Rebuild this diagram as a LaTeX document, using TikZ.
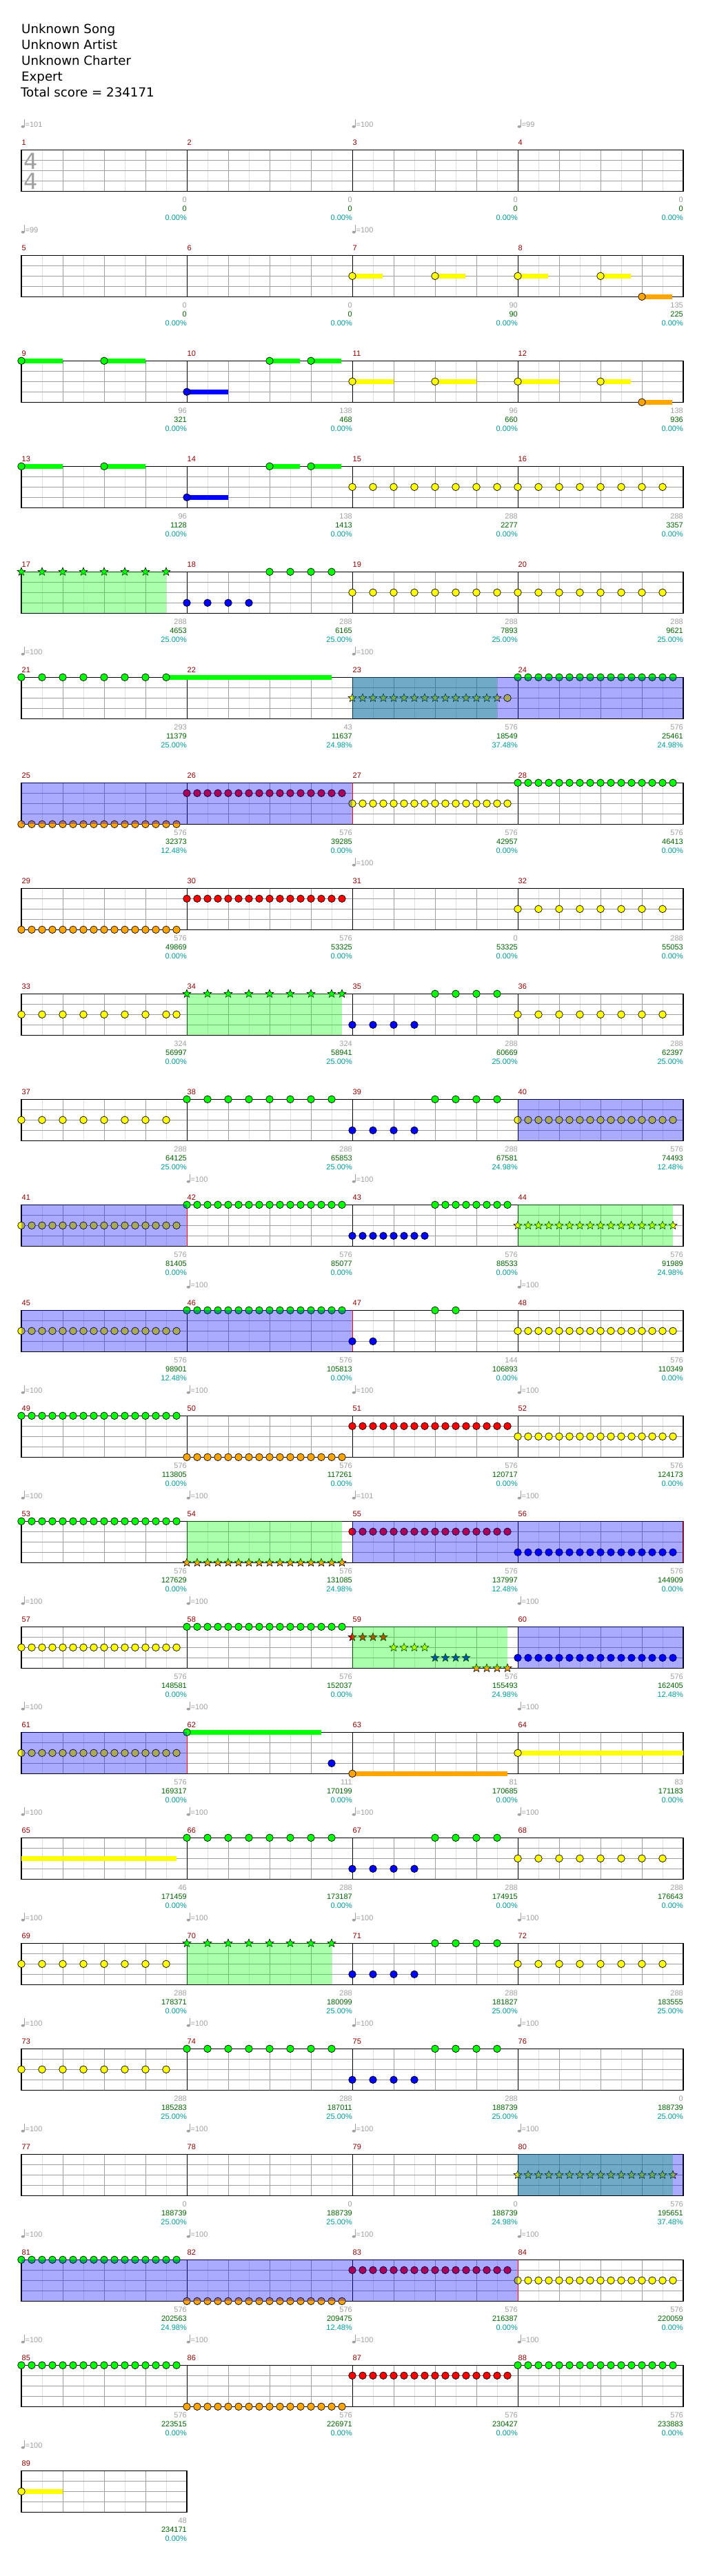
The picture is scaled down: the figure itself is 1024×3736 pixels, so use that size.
\documentclass[tikz,border=0pt]{standalone}
\usepackage{fontspec}
\newfontfamily\DJFONT{DejaVu Sans}
\newfontfamily\LABFONT{Liberation Sans}
\usetikzlibrary{shapes.geometric}
\definecolor{cG}{RGB}{0,255,0}
\definecolor{cR}{RGB}{255,0,0}
\definecolor{cY}{RGB}{255,255,0}
\definecolor{cB}{RGB}{0,0,255}
\definecolor{cO}{RGB}{255,165,0}
\definecolor{gridgray}{RGB}{160,160,160}
\definecolor{gridlight}{RGB}{222,222,222}
\definecolor{lblgray}{RGB}{160,160,160}
\definecolor{lblgreen}{RGB}{0,100,0}
\definecolor{lblcyan}{RGB}{0,153,153}
\definecolor{mnum}{RGB}{140,0,0}
\tikzset{
 lbase/.style={anchor=base east,inner sep=0pt,font=\LABFONT\fontsize{11}{13}\selectfont},
 lblg/.style={lbase,text=lblgray},
 lblgr/.style={lbase,text=lblgreen},
 lblc/.style={lbase,text=lblcyan},
 mnumst/.style={anchor=base west,inner sep=0pt,text=mnum,font=\LABFONT\fontsize{11}{13}\selectfont},
 titlest/.style={anchor=base west,inner sep=0pt,font=\DJFONT\fontsize{18.2}{20}\selectfont},
 tsig/.style={anchor=base,inner sep=0pt,text=lblgray,font=\DJFONT\fontsize{32}{32}\selectfont},
 starnote/.style={star,star points=5,star point ratio=2.3,minimum size=12.5pt,inner sep=0pt,draw=black,line width=0.6pt},
}
\newcommand\SETM[1]{%
 \pgfmathtruncatemacro\mrow{(#1-1)/4}%
 \pgfmathtruncatemacro\mcol{#1-1-4*\mrow}%
 \pgfmathsetmacro\mx{31+240*\mcol}%
 \pgfmathsetmacro\my{217.3+153*\mrow}}
\newcommand\STAFF[2]{%
 \pgfmathsetmacro\sy{217.3+153*#1}%
 \pgfmathtruncatemacro\nq{4*#2}%
 \pgfmathtruncatemacro\nqm{4*#2-1}%
 \pgfmathsetmacro\sx{31+240*#2}%
 \foreach \i in {1,...,\nq}{\draw[gridlight,line width=1pt] ({31+60*\i-30},\sy) -- ++(0,60);}%
 \foreach \i in {1,...,\nqm}{\draw[gridgray,line width=1pt] ({31+60*\i},\sy) -- ++(0,60);}%
 \foreach \j in {1,2,3}{\draw[gridgray,line width=1pt] (31,{\sy+15*\j}) -- (\sx,{\sy+15*\j});}%
 \ifnum#2>1 \pgfmathtruncatemacro\nb{#2-1}\foreach \j in {1,...,\nb}{\draw[black,line width=1pt] ({31+240*\j},\sy) -- ++(0,60);}\fi
 \draw[black,line width=1.1pt] (31,\sy) rectangle (\sx,{\sy+60});}
\newcommand\NH[3]{\pgfmathsetmacro\px{\mx+15*(#3)}\pgfmathsetmacro\py{\my+15*(#2)}%
 \filldraw[fill=#1,draw=black,line width=0.7pt] (\px,\py) circle[radius=5.3pt];}
\newcommand\SH[3]{\pgfmathsetmacro\px{\mx+15*(#3)}\pgfmathsetmacro\py{\my+15*(#2)}%
 \node[starnote,fill=#1] at (\px,\py) {};}
\newcommand\NSUS[4]{\pgfmathsetmacro\px{\mx+15*(#3)}\pgfmathsetmacro\py{\my+15*(#2)-3.4}%
 \fill[#1] (\px,\py) rectangle ++(#4,6.8);}
\newcommand\NS[4]{\NSUS{#1}{#2}{#3}{#4}\NH{#1}{#2}{#3}}
\newcommand\NRUN[5]{\foreach \k in {1,...,#5}{\NH{#1}{#2}{#3+#4*(\k-1)}}}
\newcommand\SRUN[5]{\foreach \k in {1,...,#5}{\SH{#1}{#2}{#3+#4*(\k-1)}}}
\newcommand\REGG[3]{\SETM{#1}\fill[cG,fill opacity=0.3333] (#2,\my) rectangle (#3,{\my+60});}
\newcommand\REGB[3]{\SETM{#1}\fill[cB,fill opacity=0.3333] (#2,\my) rectangle (#3,{\my+60});}
\newcommand\ENDL[2]{\SETM{#1}\draw[cR,line width=0.8pt] (#2,\my) -- (#2,{\my+60});}
\newcommand\LBL[4]{\SETM{#1}\pgfmathsetmacro\ex{\mx+240}%
 \node[lblg] at (\ex,{\my+76}) {#2};%
 \node[lblgr] at (\ex,{\my+89}) {#3};%
 \node[lblc] at (\ex,{\my+102}) {#4};}
\newcommand\TEMPO[2]{\SETM{#1}%
 \fill[lblgray] ({\mx+2.3},{\my-33.6}) ellipse[x radius=2.6pt,y radius=1.9pt];%
 \draw[lblgray,line width=0.9pt] ({\mx+4.6},{\my-34}) -- ({\mx+4.6},{\my-44.5});%
 \node[anchor=base west,inner sep=0pt,text=lblgray,font=\LABFONT\fontsize{11}{13}\selectfont] at ({\mx+5.5},{\my-33}) {=#2};}
\begin{document}
\begin{tikzpicture}[x=1pt,y=-1pt]
\useasboundingbox (0,0) rectangle (1024,3736);
\fill[white] (0,0) rectangle (1024,3736);
% title
\node[titlest] (t1) at (31,49) {Unknown Song};
\node[titlest] (t2) at (31,72) {Unknown Artist};
\node[titlest] (t3) at (31,95) {Unknown Charter};
\node[titlest] (t4) at (31,118) {Expert};
\node[titlest] (t5) at (30,141) {Total score = 234171};
% staves
\foreach \r in {0,...,21}{\STAFF{\r}{4}}
\STAFF{22}{1}
\node[tsig] (ts1) at (44.7,245.3) {4};
\node[tsig] (ts2) at (44.7,274.3) {4};
% end-of-activation markers
\ENDL{26}{511}\ENDL{41}{271}\ENDL{46}{511}\ENDL{61}{271}\ENDL{81}{751}\ENDL{55}{991}
% notes
\SETM{7}\NS{cY}{2}{0}{44}\NS{cY}{2}{8}{44}
\SETM{8}\NS{cY}{2}{0}{44}\NS{cY}{2}{8}{44}\NS{cO}{4}{12}{44}
\SETM{9}\NS{cG}{0}{0}{60}\NS{cG}{0}{8}{60}
\SETM{10}\NS{cB}{3}{0}{60}\NS{cG}{0}{8}{44}\NS{cG}{0}{12}{44}
\SETM{11}\NS{cY}{2}{0}{60}\NS{cY}{2}{8}{60}
\SETM{12}\NS{cY}{2}{0}{60}\NS{cY}{2}{8}{44}\NS{cO}{4}{12}{44}
\SETM{13}\NS{cG}{0}{0}{60}\NS{cG}{0}{8}{60}
\SETM{14}\NS{cB}{3}{0}{60}\NS{cG}{0}{8}{44}\NS{cG}{0}{12}{44}
\SETM{15}\NRUN{cY}{2}{0}{2}{8}
\SETM{16}\NRUN{cY}{2}{0}{2}{8}
\SETM{17}\SRUN{cG}{0}{0}{2}{8}
\SETM{18}\NRUN{cB}{3}{0}{2}{4}\NRUN{cG}{0}{8}{2}{4}
\SETM{19}\NRUN{cY}{2}{0}{2}{8}
\SETM{20}\NRUN{cY}{2}{0}{2}{8}
\SETM{21}\NRUN{cG}{0}{0}{2}{7}\NS{cG}{0}{14}{240}
\SETM{23}\SRUN{cY}{2}{0}{1}{15}\NH{cY}{2}{15}
\SETM{24}\NRUN{cG}{0}{0}{1}{16}
\SETM{25}\NRUN{cO}{4}{0}{1}{16}
\SETM{26}\NRUN{cR}{1}{0}{1}{16}
\SETM{27}\NRUN{cY}{2}{0}{1}{16}
\SETM{28}\NRUN{cG}{0}{0}{1}{16}
\SETM{29}\NRUN{cO}{4}{0}{1}{16}
\SETM{30}\NRUN{cR}{1}{0}{1}{16}
\SETM{32}\NRUN{cY}{2}{0}{2}{8}
\SETM{33}\NRUN{cY}{2}{0}{2}{8}\NH{cY}{2}{15}
\SETM{34}\SRUN{cG}{0}{0}{2}{8}\SH{cG}{0}{15}
\SETM{35}\NRUN{cB}{3}{0}{2}{4}\NRUN{cG}{0}{8}{2}{4}
\SETM{36}\NRUN{cY}{2}{0}{2}{8}
\SETM{37}\NRUN{cY}{2}{0}{2}{8}
\SETM{38}\NRUN{cG}{0}{0}{2}{8}
\SETM{39}\NRUN{cB}{3}{0}{2}{4}\NRUN{cG}{0}{8}{2}{4}
\SETM{40}\NRUN{cY}{2}{0}{1}{16}
\SETM{41}\NRUN{cY}{2}{0}{1}{16}
\SETM{42}\NRUN{cG}{0}{0}{1}{16}
\SETM{43}\NRUN{cB}{3}{0}{1}{8}\NRUN{cG}{0}{8}{1}{8}
\SETM{44}\SRUN{cY}{2}{0}{1}{16}
\SETM{45}\NRUN{cY}{2}{0}{1}{16}
\SETM{46}\NRUN{cG}{0}{0}{1}{16}
\SETM{47}\NRUN{cB}{3}{0}{2}{2}\NRUN{cG}{0}{8}{2}{2}
\SETM{48}\NRUN{cY}{2}{0}{1}{16}
\SETM{49}\NRUN{cG}{0}{0}{1}{16}
\SETM{50}\NRUN{cO}{4}{0}{1}{16}
\SETM{51}\NRUN{cR}{1}{0}{1}{16}
\SETM{52}\NRUN{cY}{2}{0}{1}{16}
\SETM{53}\NRUN{cG}{0}{0}{1}{16}
\SETM{54}\SRUN{cO}{4}{0}{1}{16}
\SETM{55}\NRUN{cR}{1}{0}{1}{16}
\SETM{56}\NRUN{cB}{3}{0}{1}{16}
\SETM{57}\NRUN{cY}{2}{0}{1}{16}
\SETM{58}\NRUN{cG}{0}{0}{1}{16}
\SETM{59}\SRUN{cR}{1}{0}{1}{4}\SRUN{cY}{2}{4}{1}{4}\SRUN{cB}{3}{8}{1}{4}\SRUN{cO}{4}{12}{1}{4}
\SETM{60}\NRUN{cB}{3}{0}{1}{16}
\SETM{61}\NRUN{cY}{2}{0}{1}{16}
\SETM{62}\NS{cG}{0}{0}{195}\NH{cB}{3}{14}
\SETM{63}\NS{cO}{4}{0}{225}
\SETM{64}\NS{cY}{2}{0}{240}
\SETM{65}\NSUS{cY}{2}{0}{225}
\SETM{66}\NRUN{cG}{0}{0}{2}{8}
\SETM{67}\NRUN{cB}{3}{0}{2}{4}\NRUN{cG}{0}{8}{2}{4}
\SETM{68}\NRUN{cY}{2}{0}{2}{8}
\SETM{69}\NRUN{cY}{2}{0}{2}{8}
\SETM{70}\SRUN{cG}{0}{0}{2}{8}
\SETM{71}\NRUN{cB}{3}{0}{2}{4}\NRUN{cG}{0}{8}{2}{4}
\SETM{72}\NRUN{cY}{2}{0}{2}{8}
\SETM{73}\NRUN{cY}{2}{0}{2}{8}
\SETM{74}\NRUN{cG}{0}{0}{2}{8}
\SETM{75}\NRUN{cB}{3}{0}{2}{4}\NRUN{cG}{0}{8}{2}{4}
\SETM{80}\SRUN{cY}{2}{0}{1}{16}
\SETM{81}\NRUN{cG}{0}{0}{1}{16}
\SETM{82}\NRUN{cO}{4}{0}{1}{16}
\SETM{83}\NRUN{cR}{1}{0}{1}{16}
\SETM{84}\NRUN{cY}{2}{0}{1}{16}
\SETM{85}\NRUN{cG}{0}{0}{1}{16}
\SETM{86}\NRUN{cO}{4}{0}{1}{16}
\SETM{87}\NRUN{cR}{1}{0}{1}{16}
\SETM{88}\NRUN{cG}{0}{0}{1}{16}
\SETM{89}\NS{cY}{2}{0}{60}
% star power regions
\REGG{17}{31}{241}\REGG{23}{511}{721}\REGG{34}{271}{496}\REGG{44}{751}{976}
\REGG{54}{271}{496}\REGG{59}{511}{736}\REGG{70}{271}{481}\REGG{80}{751}{976}
% activation regions
\REGB{23}{511}{991}\REGB{25}{31}{511}\REGB{40}{751}{991}\REGB{41}{31}{271}
\REGB{45}{31}{511}\REGB{55}{511}{991}\REGB{60}{751}{991}\REGB{61}{31}{271}
\REGB{80}{751}{991}\REGB{81}{31}{751}
% measure numbers
\foreach \m in {1,...,89}{\SETM{\m}\node[mnumst] at ({\mx+0.5},{\my-7}) {\m};}
% tempos
\TEMPO{1}{101}\TEMPO{3}{100}\TEMPO{4}{99}\TEMPO{5}{99}\TEMPO{7}{100}
\TEMPO{21}{100}\TEMPO{23}{100}\TEMPO{31}{100}\TEMPO{42}{100}\TEMPO{43}{100}
\TEMPO{46}{100}\TEMPO{48}{100}
\foreach \m in {49,50,51,52,53,54,56,57,58,60,61,62,64}{\TEMPO{\m}{100}}
\TEMPO{55}{101}
\foreach \m in {65,...,89}{\TEMPO{\m}{100}}
% labels
\LBL{1}{0}{0}{0.00\%}\LBL{2}{0}{0}{0.00\%}\LBL{3}{0}{0}{0.00\%}\LBL{4}{0}{0}{0.00\%}
\LBL{5}{0}{0}{0.00\%}\LBL{6}{0}{0}{0.00\%}\LBL{7}{90}{90}{0.00\%}\LBL{8}{135}{225}{0.00\%}
\LBL{9}{96}{321}{0.00\%}\LBL{10}{138}{468}{0.00\%}\LBL{11}{96}{660}{0.00\%}\LBL{12}{138}{936}{0.00\%}
\LBL{13}{96}{1128}{0.00\%}\LBL{14}{138}{1413}{0.00\%}\LBL{15}{288}{2277}{0.00\%}\LBL{16}{288}{3357}{0.00\%}
\LBL{17}{288}{4653}{25.00\%}\LBL{18}{288}{6165}{25.00\%}\LBL{19}{288}{7893}{25.00\%}\LBL{20}{288}{9621}{25.00\%}
\LBL{21}{293}{11379}{25.00\%}\LBL{22}{43}{11637}{24.98\%}\LBL{23}{576}{18549}{37.48\%}\LBL{24}{576}{25461}{24.98\%}
\LBL{25}{576}{32373}{12.48\%}\LBL{26}{576}{39285}{0.00\%}\LBL{27}{576}{42957}{0.00\%}\LBL{28}{576}{46413}{0.00\%}
\LBL{29}{576}{49869}{0.00\%}\LBL{30}{576}{53325}{0.00\%}\LBL{31}{0}{53325}{0.00\%}\LBL{32}{288}{55053}{0.00\%}
\LBL{33}{324}{56997}{0.00\%}\LBL{34}{324}{58941}{25.00\%}\LBL{35}{288}{60669}{25.00\%}\LBL{36}{288}{62397}{25.00\%}
\LBL{37}{288}{64125}{25.00\%}\LBL{38}{288}{65853}{25.00\%}\LBL{39}{288}{67581}{24.98\%}\LBL{40}{576}{74493}{12.48\%}
\LBL{41}{576}{81405}{0.00\%}\LBL{42}{576}{85077}{0.00\%}\LBL{43}{576}{88533}{0.00\%}\LBL{44}{576}{91989}{24.98\%}
\LBL{45}{576}{98901}{12.48\%}\LBL{46}{576}{105813}{0.00\%}\LBL{47}{144}{106893}{0.00\%}\LBL{48}{576}{110349}{0.00\%}
\LBL{49}{576}{113805}{0.00\%}\LBL{50}{576}{117261}{0.00\%}\LBL{51}{576}{120717}{0.00\%}\LBL{52}{576}{124173}{0.00\%}
\LBL{53}{576}{127629}{0.00\%}\LBL{54}{576}{131085}{24.98\%}\LBL{55}{576}{137997}{12.48\%}\LBL{56}{576}{144909}{0.00\%}
\LBL{57}{576}{148581}{0.00\%}\LBL{58}{576}{152037}{0.00\%}\LBL{59}{576}{155493}{24.98\%}\LBL{60}{576}{162405}{12.48\%}
\LBL{61}{576}{169317}{0.00\%}\LBL{62}{111}{170199}{0.00\%}\LBL{63}{81}{170685}{0.00\%}\LBL{64}{83}{171183}{0.00\%}
\LBL{65}{46}{171459}{0.00\%}\LBL{66}{288}{173187}{0.00\%}\LBL{67}{288}{174915}{0.00\%}\LBL{68}{288}{176643}{0.00\%}
\LBL{69}{288}{178371}{0.00\%}\LBL{70}{288}{180099}{25.00\%}\LBL{71}{288}{181827}{25.00\%}\LBL{72}{288}{183555}{25.00\%}
\LBL{73}{288}{185283}{25.00\%}\LBL{74}{288}{187011}{25.00\%}\LBL{75}{288}{188739}{25.00\%}\LBL{76}{0}{188739}{25.00\%}
\LBL{77}{0}{188739}{25.00\%}\LBL{78}{0}{188739}{25.00\%}\LBL{79}{0}{188739}{24.98\%}\LBL{80}{576}{195651}{37.48\%}
\LBL{81}{576}{202563}{24.98\%}\LBL{82}{576}{209475}{12.48\%}\LBL{83}{576}{216387}{0.00\%}\LBL{84}{576}{220059}{0.00\%}
\LBL{85}{576}{223515}{0.00\%}\LBL{86}{576}{226971}{0.00\%}\LBL{87}{576}{230427}{0.00\%}\LBL{88}{576}{233883}{0.00\%}
\LBL{89}{48}{234171}{0.00\%}
\end{tikzpicture}
\end{document}
